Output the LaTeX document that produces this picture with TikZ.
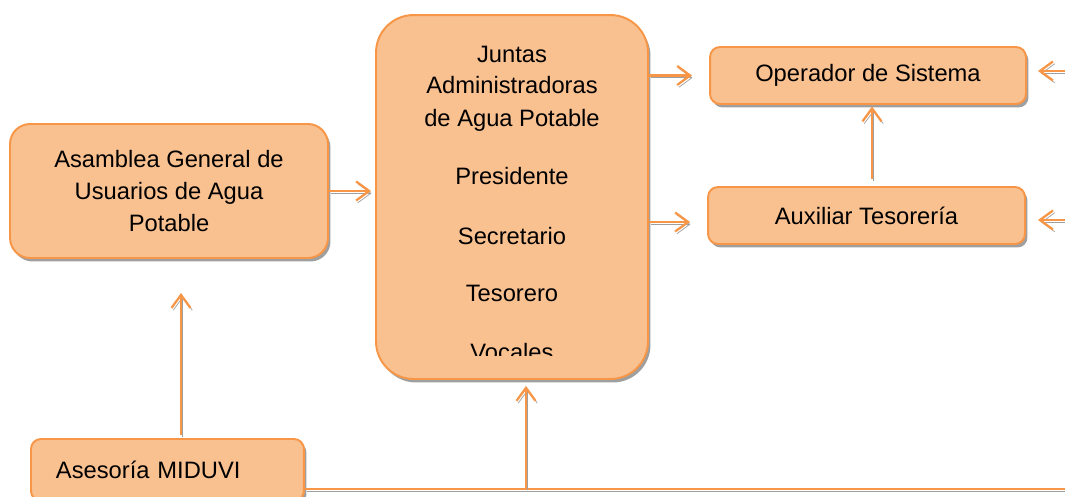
\documentclass[tikz,border=0pt]{standalone}
\usepackage{fontspec}
\setmainfont{Liberation Sans}
\usetikzlibrary{arrows,arrows.meta,shapes,positioning,shadows}

\definecolor{peach}{HTML}{F9C090}
\definecolor{tangerine}{HTML}{F79646}
\definecolor{shadowgray}{HTML}{9F9F9F}

\tikzset{
	orgbox/.style={draw=tangerine, fill=peach, line width=1.1pt, align=center,
		general shadow={shadow xshift=0.05cm, shadow yshift=-0.07cm, fill=shadowgray}},
	link/.style={tangerine, line width=1.3pt,
		preaction={draw=shadowgray, transform canvas={xshift=0.035cm, yshift=-0.045cm}}},
}

\begin{document}
\begin{tikzpicture}[x=0.02cm, y=-0.02cm, >={Straight Barb[length=0.26cm,width=0.38cm]},
	font=\fontsize{13.5pt}{18.2pt}\selectfont]
	\useasboundingbox (0,0) rectangle (1065,497);
	\clip (0,0) rectangle (1065,497);
	
	% boxes
	\node[orgbox, minimum width=6.36cm, minimum height=2.68cm, rounded corners=0.4cm] (asamblea) at (169,191) {Asamblea General de\\Usuarios de Agua\\Potable};
	\node[orgbox, minimum width=5.44cm, minimum height=7.28cm, rounded corners=0.75cm] (juntas) at (512,197) {};
	\node[orgbox, minimum width=6.32cm, minimum height=1.14cm, rounded corners=0.2cm] (operador) at (868,75.5) {Operador de Sistema};
	\node[orgbox, minimum width=6.34cm, minimum height=1.14cm, rounded corners=0.2cm] (auxiliar) at (866.5,215.5) {Auxiliar Tesorería};
	\node[orgbox, align=left, text width=4.46cm, inner xsep=0.5cm, minimum height=1.24cm, rounded corners=0.2cm, anchor=north west] (asesoria) at (30,438) {Asesoría MIDUVI};
	
	% texts inside the Juntas box
	\foreach \y/\t [count=\i] in {62/Juntas, 93.5/Administradoras, 126/de Agua Potable, 184/Presidente, 244/Secretario, 301/Tesorero}
		\node[anchor=base] (jlinea\i) at (512,\y) {\t};
	\begin{scope}
		\clip (376,0) rectangle (648,355);
		\node[anchor=base] (vocales) at (512,360) {Vocales};
	\end{scope}
	
	% connectors
	\coordinate (jaux) at ([yshift=-0.13cm]auxiliar.west);
	\coordinate (auxtop) at ([xshift=0.11cm,yshift=0.14cm]auxiliar.north);
	\coordinate (extsup) at (1070,71);
	\coordinate (extinf) at (1070,220);
	\coordinate (asebase) at (181,435);
	\coordinate (busjunta) at (526,488);
	\coordinate (busfin) at (1070,489);
	
	\draw[link, ->, shorten >=0.08cm] (asamblea.east) -- (juntas.west |- asamblea.east);
	\draw[link, ->, shorten >=0.34cm] (juntas.east |- operador.west) -- (operador.west);
	\draw[link, ->, shorten >=0.34cm] (juntas.east |- jaux) -- (jaux);
	\draw[link, ->, shorten >=0.03cm] (auxtop) -- (auxtop |- operador.south);
	\draw[link, ->] (extsup) -- ++(-32,0);
	\draw[link, ->] (extinf) -- ++(-32,0);
	\draw[link, ->] (asebase) -- ++(0,-142);
	\draw[link] (asesoria.east |- busfin) -- (busfin);
	\draw[link, ->, shorten >=0.12cm] (busjunta) -- (busjunta |- juntas.south);
\end{tikzpicture}
\end{document}
